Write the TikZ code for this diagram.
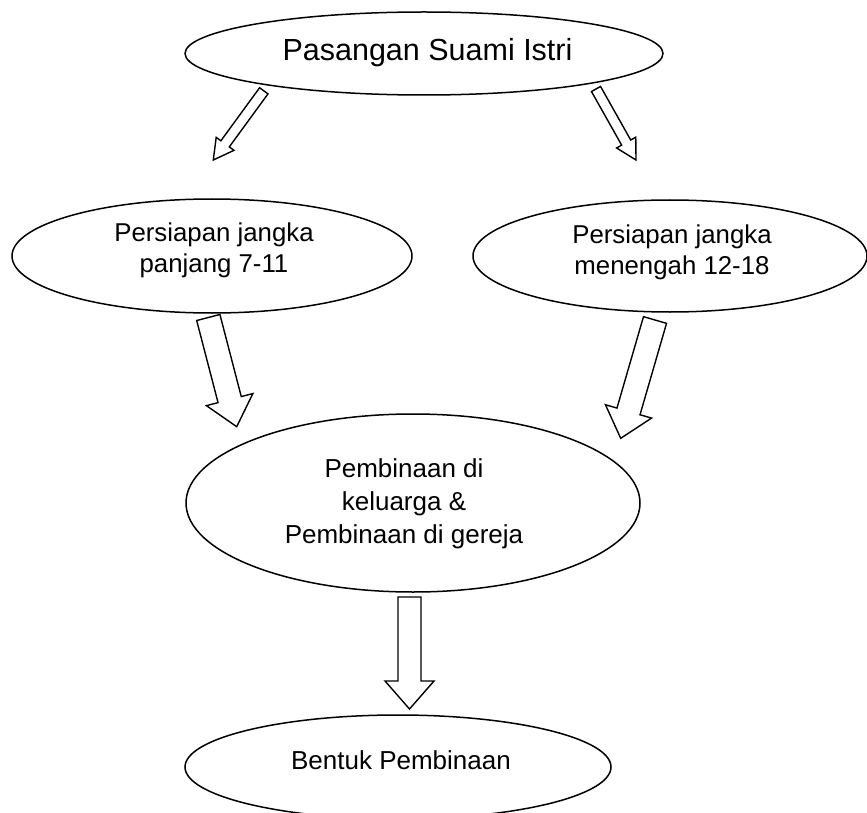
\documentclass[tikz,border=0pt]{standalone}
\usepackage{fontspec}
\setmainfont{Liberation Sans}
\usetikzlibrary{calc,shapes.geometric}
\newcommand\blkarr[5]{%
  \coordinate (hb#1#2) at ($(#2)!#5!(#1)$);
  \draw[blk] ($(#1)!#3!90:(#2)$) -- ($(hb#1#2)!#3!90:(#2)$) -- ($(hb#1#2)!#4!90:(#2)$) -- (#2)
    -- ($(hb#1#2)!#4!-90:(#2)$) -- ($(hb#1#2)!#3!-90:(#2)$) -- ($(#1)!#3!-90:(#2)$) -- cycle;}
\begin{document}
\begin{tikzpicture}[x=1pt,y=-1pt,
  ell/.style={draw, ellipse, line width=1.5pt, inner sep=0pt},
  txt/.style={align=center, inner sep=0pt},
  blk/.style={draw, line width=1.4pt, line join=miter, fill=white}]
\useasboundingbox[fill=white] (0,0) rectangle (867,813);
% ellipses
\node[ell, minimum width=478pt, minimum height=83pt] (e1) at (424,53.5) {};
\node[txt, font=\fontsize{30.5}{36}\selectfont] (e1t) at (427.5,53) {Pasangan Suami Istri};
\node[ell, minimum width=400pt, minimum height=114pt] (e2) at (212,256) {};
\node[txt, font=\fontsize{25.8}{31}\selectfont] (e2t) at (214,250) {Persiapan jangka\\panjang 7-11};
\node[ell, minimum width=394pt, minimum height=112pt] (e3) at (670,256) {};
\node[txt, font=\fontsize{25.8}{31}\selectfont] (e3t) at (672,252) {Persiapan jangka\\menengah 12-18};
\node[ell, minimum width=454pt, minimum height=178pt] (e4) at (413,503) {};
\node[txt, font=\fontsize{26}{33}\selectfont] (e4t) at (404,504) {Pembinaan di\\keluarga \&\\Pembinaan di gereja};
\node[ell, minimum width=426pt, minimum height=104pt] (e5) at (398,767) {};
\node[txt, font=\fontsize{26}{31}\selectfont] (e5t) at (401,760) {Bentuk Pembinaan};
% arrow end points
\coordinate (a1s) at (263.8,90.8);  \coordinate (a1e) at (213.3,160);
\coordinate (a2s) at (596,89);      \coordinate (a2e) at (636,160);
\coordinate (a3s) at (208.3,317.5); \coordinate (a3e) at (236.7,426.7);
\coordinate (a4s) at (655,320);     \coordinate (a4e) at (620.7,438.3);
\coordinate (a5s) at (409.5,597);   \coordinate (a5e) at (409.5,709);
\blkarr{a1s}{a1e}{5.2pt}{11pt}{20pt}
\blkarr{a2s}{a2e}{5.2pt}{11pt}{20pt}
\blkarr{a3s}{a3e}{12pt}{24pt}{28pt}
\blkarr{a4s}{a4e}{12pt}{24pt}{28pt}
\blkarr{a5s}{a5e}{11.5pt}{24.5pt}{28pt}
\end{tikzpicture}
\end{document}
